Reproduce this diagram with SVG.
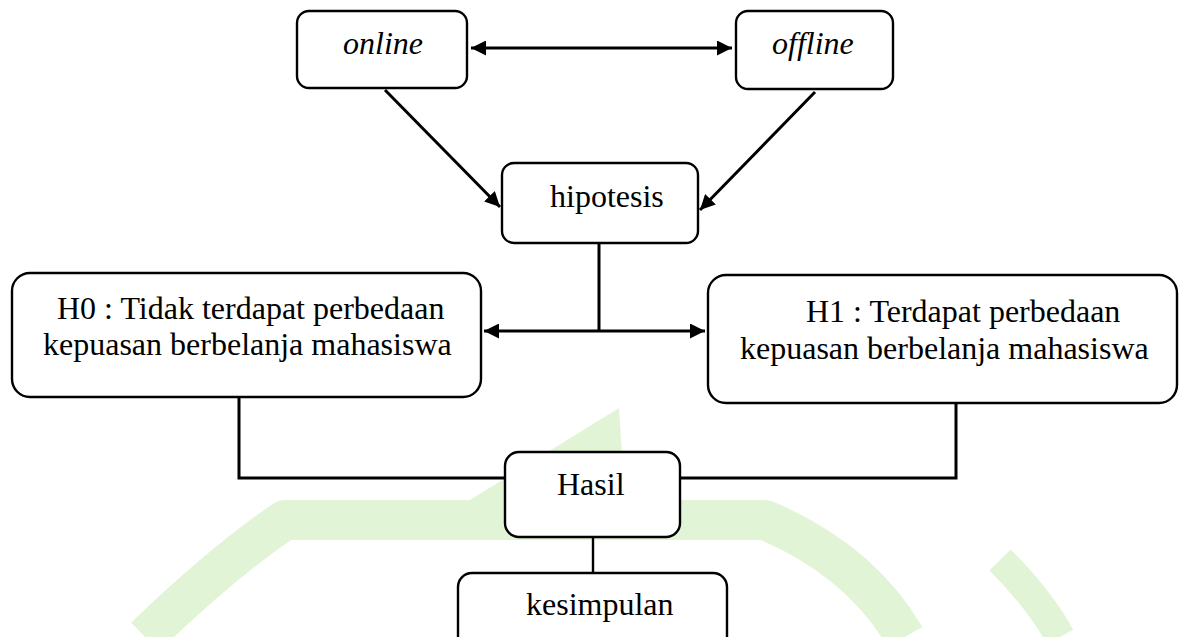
<svg xmlns="http://www.w3.org/2000/svg" width="1185" height="637" viewBox="0 0 1185 637">
<style>
.box{fill:#fff;stroke:#000;stroke-width:2.4}
.t{font-family:"Liberation Serif","Times New Roman",serif;font-size:32px;fill:#000}
.i{font-style:italic}
.c{fill:none;stroke:#000;stroke-width:3}
.wm{fill:none;stroke:#e2f4d6;stroke-linejoin:round}
</style>
<defs>
<marker id="ah" viewBox="0 0 10 10" refX="10" refY="5" markerWidth="5.2" markerHeight="5" orient="auto-start-reverse" markerUnits="strokeWidth">
<path d="M0,0 L10,5 L0,10 z" fill="#000"/>
</marker>
</defs>
<rect width="1185" height="637" fill="#fff"/>
<g id="watermark">
<path class="wm" stroke-width="40" d="M145,637 Q225,560 285,520 L765,520 Q860,560 905,637"/>
<path d="M470,500 L619,408 L625,500 Z" fill="#e2f4d6"/>
<path class="wm" stroke-width="30" d="M1000,560 Q1040,600 1060,637"/>
</g>
<g id="connectors">
<line class="c" x1="471" y1="48" x2="732" y2="48" marker-start="url(#ah)" marker-end="url(#ah)"/>
<line class="c" x1="385" y1="90" x2="500" y2="207" marker-end="url(#ah)"/>
<line class="c" x1="815" y1="92" x2="700" y2="210" marker-end="url(#ah)"/>
<line class="c" x1="599" y1="243" x2="599" y2="331"/>
<line class="c" x1="484" y1="331" x2="705" y2="331" marker-start="url(#ah)" marker-end="url(#ah)"/>
<polyline class="c" points="239,397 239,478 505,478"/>
<polyline class="c" points="956,403 956,478 680,478"/>
<line class="c" style="stroke-width:2.4" x1="593" y1="537" x2="593" y2="573"/>
</g>
<g id="online">
<rect class="box" x="297" y="11" width="170" height="77" rx="12"/>
<text class="t i" x="343" y="54">online</text>
</g>
<g id="offline">
<rect class="box" x="736" y="11" width="157" height="78" rx="12"/>
<text class="t i" x="772" y="54">offline</text>
</g>
<g id="hipotesis">
<rect class="box" x="502" y="163" width="196" height="80" rx="12"/>
<text class="t" x="550" y="207">hipotesis</text>
</g>
<g id="h0">
<rect class="box" x="12" y="273" width="469" height="124" rx="18"/>
<text class="t" x="57" y="319">H0 : Tidak terdapat perbedaan</text>
<text class="t" x="43" y="355">kepuasan berbelanja mahasiswa</text>
</g>
<g id="h1">
<rect class="box" x="708" y="275" width="469" height="128" rx="18"/>
<text class="t" x="806" y="322">H1 : Terdapat perbedaan</text>
<text class="t" x="740" y="359">kepuasan berbelanja mahasiswa</text>
</g>
<g id="hasil">
<rect class="box" x="505" y="452" width="175" height="85" rx="14"/>
<text class="t" x="557" y="495">Hasil</text>
</g>
<g id="kesimpulan">
<rect class="box" x="458" y="573" width="269" height="80" rx="14"/>
<text class="t" x="526" y="615">kesimpulan</text>
</g>
</svg>
